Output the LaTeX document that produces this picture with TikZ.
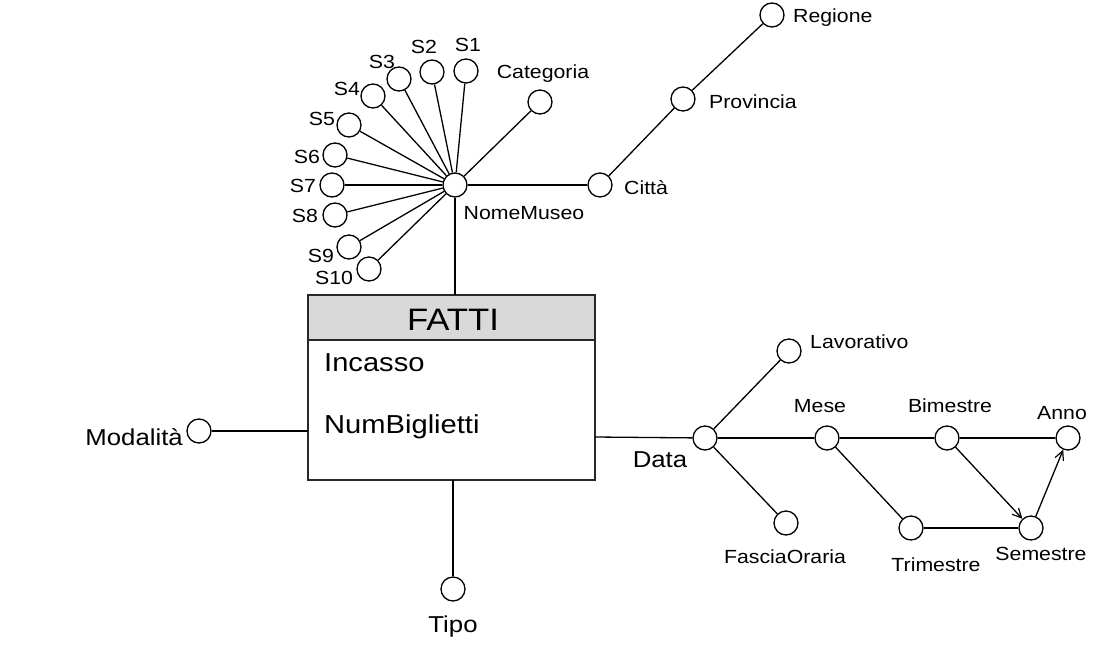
\documentclass[tikz,border=0pt]{standalone}
\usepackage{fontspec}
\setmainfont{Liberation Sans}[FakeStretch=1.12]
\usetikzlibrary{arrows.meta}
\definecolor{hdr}{RGB}{217,217,217}
\definecolor{boxline}{RGB}{40,40,40}
\tikzset{
  attr/.style={circle,draw,fill=white,minimum size=24pt,inner sep=0pt,line width=1.3pt},
  lbl/.style={inner sep=0pt,font=\fontsize{19}{21}\selectfont},
  biglbl/.style={inner sep=0pt,font=\fontsize{23}{25}\selectfont},
  conn/.style={line width=1.3pt},
  arr/.style={line width=1.3pt,-{Straight Barb[length=9pt,width=9pt,line width=1.2pt]}}
}
\begin{document}
\begin{tikzpicture}[x=1pt,y=-1pt]
\useasboundingbox[fill=white] (0,0) rectangle (1098,651);
% fact box
\draw[fill=hdr,draw=boxline,line width=1.4pt] (308,295) rectangle (595,340);
\draw[fill=white,draw=boxline,line width=1.4pt] (308,340) rectangle (595,480);
\node[inner sep=0pt,font=\fontsize{31}{33}\selectfont] (fatti) at (453,320) {FATTI};
\node[inner sep=0pt,font=\fontsize{26}{28}\selectfont,anchor=west] (incasso) at (324,363) {Incasso};
\node[inner sep=0pt,font=\fontsize{26}{28}\selectfont,anchor=west] (numb) at (324,427) {NumBiglietti};
\coordinate (boxtop) at (455,295);
\coordinate (boxbot) at (453,480);
\coordinate (boxleft) at (308,431);
\coordinate (boxright) at (595,437);
% museum dimension
\node[attr] (nm) at (455,185) {};
\node[lbl] (nmt) at (524,213) {NomeMuseo};
\node[attr] (s1) at (466,71) {};
\node[lbl] (s1t) at (468,45) {S1};
\node[attr] (s2) at (432,72) {};
\node[lbl] (s2t) at (424,47) {S2};
\node[attr] (s3) at (399,79) {};
\node[lbl] (s3t) at (382,62) {S3};
\node[attr] (s4) at (373,96) {};
\node[lbl] (s4t) at (347,89) {S4};
\node[attr] (s5) at (349,125) {};
\node[lbl] (s5t) at (322,119) {S5};
\node[attr] (s6) at (335,155) {};
\node[lbl] (s6t) at (307,157) {S6};
\node[attr] (s7) at (332,185) {};
\node[lbl] (s7t) at (303,186) {S7};
\node[attr] (s8) at (335,215) {};
\node[lbl] (s8t) at (305,216) {S8};
\node[attr] (s9) at (349,247) {};
\node[lbl] (s9t) at (321,256) {S9};
\node[attr] (s10) at (369,269) {};
\node[lbl] (s10t) at (334,278) {S10};
\node[attr] (cat) at (540,102) {};
\node[lbl] (catt) at (543,74) {Categoria};
\node[attr] (cit) at (600,185) {};
\node[lbl,anchor=west] (citt) at (624,188) {Città};
\node[attr] (prov) at (683,99) {};
\node[lbl,anchor=west] (provt) at (709,102) {Provincia};
\node[attr] (reg) at (772,15) {};
\node[lbl,anchor=west] (regt) at (793,18) {Regione};
\foreach \s in {s1,s2,s3,s4,s5,s6,s7,s8,s9,s10,cat,cit} \draw[conn] (nm) -- (\s);
\draw[conn] (cit) -- (prov);
\draw[conn] (prov) -- (reg);
\draw[conn] (nm) -- (boxtop);
% modalita and tipo
\node[attr] (mod) at (199,431) {};
\node[biglbl,anchor=east] (modt) at (183,437) {Modalità};
\draw[conn] (mod) -- (boxleft);
\node[attr] (tipo) at (453,589) {};
\node[biglbl] (tipot) at (453,627) {Tipo};
\draw[conn] (boxbot) -- (tipo);
% date dimension
\node[attr] (data) at (705,438) {};
\node[biglbl] (datat) at (660,460) {Data};
\draw[conn] (boxright) -- (data);
\node[attr] (lav) at (789,351) {};
\node[lbl,anchor=west] (lavt) at (810,342) {Lavorativo};
\node[attr] (fo) at (786,523) {};
\node[lbl] (fot) at (785,557) {FasciaOraria};
\node[attr] (mese) at (827,438) {};
\node[lbl] (meset) at (820,406) {Mese};
\node[attr] (bim) at (947,438) {};
\node[lbl] (bimt) at (950,406) {Bimestre};
\node[attr] (anno) at (1068,438) {};
\node[lbl] (annot) at (1062,413) {Anno};
\node[attr] (tri) at (911,528) {};
\node[lbl] (trit) at (936,565) {Trimestre};
\node[attr] (sem) at (1031,528) {};
\node[lbl] (semt) at (1041,554) {Semestre};
\draw[conn] (data) -- (lav);
\draw[conn] (data) -- (fo);
\draw[conn] (data) -- (mese);
\draw[conn] (mese) -- (bim);
\draw[conn] (bim) -- (anno);
\draw[conn] (mese) -- (tri);
\draw[conn] (tri) -- (sem);
\draw[arr] (bim) -- (sem);
\draw[arr] (sem) -- (anno);
\end{tikzpicture}
\end{document}
